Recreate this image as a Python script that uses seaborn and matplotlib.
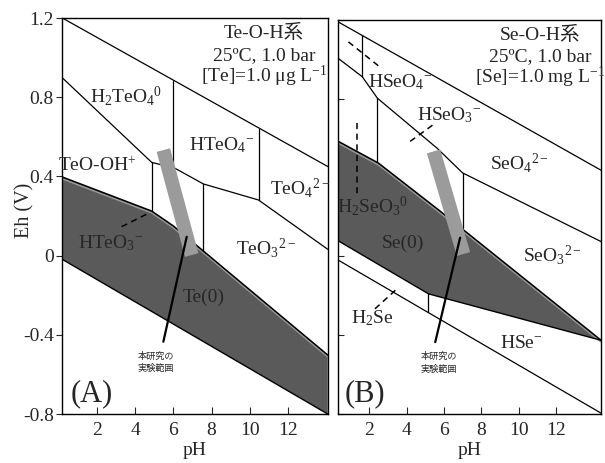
import numpy as np
import pandas as pd
import matplotlib
matplotlib.use("Agg")
import matplotlib.pyplot as plt
import matplotlib.patheffects as pe
import seaborn as sns

# ---------------- Te-O-H system (panel A) ----------------
a_o2_ph = [0.2, 14.07]
a_o2_eh = [1.2, 0.45]
a_upper_ph = [0.2, 4.87, 6.09, 7.57, 10.45, 14.07]
a_upper_eh = [0.898, 0.471, 0.441, 0.362, 0.281, 0.032]
a_vert_ph = [4.87, 6.0, 7.57, 10.46]
a_vert_top = [0.471, 0.884, 0.362, 0.639]
a_vert_bot = [0.225, 0.443, 0.024, 0.281]
a_te_top_ph = [0.2, 4.87, 6.0, 7.3, 14.07]
a_te_top_eh = [0.397, 0.225, 0.15, 0.045, -0.502]
a_te_bot_ph = [0.2, 14.07]
a_te_bot_eh = [-0.019, -0.8]
a_dash_ph = [3.30, 4.70]
a_dash_eh = [0.146, 0.214]
a_range_ph = [5.48, 6.96]
a_range_eh = [0.533, 0.003]
a_pointer_ph = [5.48, 6.70]
a_pointer_eh = [-0.435, 0.095]
a_species = [r"H$_2$TeO$_4$$^0$", r"HTeO$_4$$^{-}$", r"TeO-OH$^{+}$", r"TeO$_4$$^{2-}$",
             r"HTeO$_3$$^{-}$", r"TeO$_3$$^{2-}$", "Te(0)"]
a_species_ph = [3.54, 8.55, 2.02, 12.62, 2.75, 10.85, 7.61]
a_species_eh = [0.806, 0.559, 0.453, 0.341, 0.064, 0.038, -0.209]
a_title = ["Te-O-H系", "25ºC, 1.0 bar", r"[Te]=1.0 μg L$^{-1}$"]

# ---------------- Se-O-H system (panel B) ----------------
b_o2_ph = [0.35, 14.4]
b_o2_eh = [1.19, 0.437]
b_upper_ph = [0.35, 1.63, 2.44, 5.62, 6.99, 14.4]
b_upper_eh = [1.005, 0.912, 0.803, 0.55, 0.424, 0.075]
b_vert_ph = [1.63, 2.44, 6.99, 5.14]
b_vert_top = [1.122, 0.803, 0.424, -0.188]
b_vert_bot = [0.912, 0.477, 0.145, -0.284]
b_se_top_ph = [0.35, 2.49, 5.79, 14.4]
b_se_top_eh = [0.584, 0.474, 0.230, -0.426]
b_se_bot_ph = [0.35, 5.17, 14.4]
b_se_bot_eh = [0.079, -0.19, -0.426]
b_h2_ph = [0.35, 14.4]
b_h2_eh = [-0.019, -0.796]
b_dash_ph = [[0.89, 2.67], [1.37, 1.37], [4.19, 5.53], [2.31, 3.48]]
b_dash_eh = [[1.089, 0.954], [0.676, 0.315], [0.584, 0.676], [-0.266, -0.165]]
b_range_ph = [5.44, 7.04]
b_range_eh = [0.533, 0.012]
b_pointer_ph = [5.53, 6.86]
b_pointer_eh = [-0.435, 0.095]
b_species = [r"HSeO$_4$$^{-}$", r"HSeO$_3$$^{-}$", r"H$_2$SeO$_3$$^0$", r"SeO$_4$$^{2-}$",
             "Se(0)", r"SeO$_3$$^{2-}$", r"H$_2$Se", r"HSe$^{-}$"]
b_species_ph = [3.66, 6.28, 2.15, 10.02, 3.81, 11.79, 2.15, 10.13]
b_species_eh = [0.882, 0.715, 0.256, 0.473, 0.064, 0.008, -0.315, -0.441]
b_title = ["Se-O-H系", "25ºC, 1.0 bar", r"[Se]=1.0 mg L$^{-1}$"]

eh_ticks = [1.2, 0.8, 0.4, 0.0, -0.4, -0.8]
eh_ticklabels = ["1.2", "0.8", "0.4", "0", "-0.4", "-0.8"]
ph_ticks = [2, 4, 6, 8, 10, 12]
range_label = "本研究の\n実験範囲"

sns.set_theme(style="ticks")
plt.rcParams["font.family"] = ["Liberation Serif", "Noto Sans CJK JP"]
plt.rcParams["mathtext.fontset"] = "custom"
plt.rcParams["mathtext.rm"] = "Liberation Serif"
plt.rcParams["mathtext.it"] = "Liberation Serif:italic"
plt.rcParams["mathtext.bf"] = "Liberation Serif:bold"
plt.rcParams["axes.linewidth"] = 1.0

DARK = "#5a5a5a"
BAR = "#9b9b9b"
LW = 0.9
FS = 14

fig = plt.figure(figsize=(6.05, 4.63), dpi=100)
ax_a = fig.add_axes([0.1030, 0.1058, 0.4387, 0.8553])
ax_b = fig.add_axes([0.5592, 0.1058, 0.4345, 0.8510])


def line(ax, ph, eh, **kw):
    df = pd.DataFrame({"pH": ph, "Eh": eh})
    kw.setdefault("color", "black")
    kw.setdefault("lw", LW)
    sns.lineplot(data=df, x="pH", y="Eh", ax=ax, sort=False, estimator=None, **kw)


def stability_field(ax, top_ph, top_eh, bot_ph, bot_eh):
    poly_x = list(top_ph) + list(bot_ph)[::-1]
    poly_y = list(top_eh) + list(bot_eh)[::-1]
    ax.fill(poly_x, poly_y, color=DARK, lw=0, zorder=1)
    shadow = [pe.SimpleLineShadow(offset=(0, -1.3), shadow_color="#9a9a9a", alpha=1.0), pe.Normal()]
    line(ax, top_ph, top_eh, zorder=2, lw=1.1, path_effects=shadow)
    line(ax, bot_ph, bot_eh, zorder=2, lw=1.0)


def decorate(ax, xlim, ylim, species, sp_ph, sp_eh, title, title_ph, panel, panel_ph,
             range_ph, range_eh, pointer_ph, pointer_eh, label_ph):
    for txt, x, y in zip(species, sp_ph, sp_eh):
        ax.text(x, y, txt, ha="center", va="center", fontsize=FS, zorder=5)
    for txt, y in zip(title, [1.124, 1.012, 0.907]):
        ax.text(title_ph, y, txt, ha="center", va="center", fontsize=FS, zorder=5)
    ax.text(panel_ph, -0.697, panel, ha="center", va="center", fontsize=22, zorder=5)
    line(ax, range_ph, range_eh, color=BAR, lw=10, zorder=3, solid_capstyle="butt")
    line(ax, pointer_ph, pointer_eh, lw=1.6, zorder=4)
    ax.text(label_ph, -0.54, range_label, ha="center", va="center", fontsize=6.6,
            family=["Noto Sans CJK JP"], linespacing=1.45, zorder=5)
    ax.set_xlim(*xlim)
    ax.set_ylim(*ylim)
    ax.set_xticks(ph_ticks)
    ax.set_xticklabels([str(t) for t in ph_ticks], fontsize=FS)
    ax.tick_params(axis="x", direction="in", length=5, width=0.8, pad=6)
    ax.set_xlabel("pH", fontsize=FS, labelpad=2)
    ax.set_yticks(eh_ticks)
    for s in ax.spines.values():
        s.set_visible(True)
        s.set_color("black")


# Panel A
stability_field(ax_a, a_te_top_ph, a_te_top_eh, a_te_bot_ph, a_te_bot_eh)
line(ax_a, a_o2_ph, a_o2_eh)
line(ax_a, a_upper_ph, a_upper_eh)
for x, t, b in zip(a_vert_ph, a_vert_top, a_vert_bot):
    line(ax_a, [x, x], [t, b])
line(ax_a, a_dash_ph, a_dash_eh, lw=1.1, linestyle=(0, (4, 3)))
decorate(ax_a, (0.2, 14.07), (-0.8, 1.2), a_species, a_species_ph, a_species_eh,
         a_title, 10.74, "(A)", 1.76, a_range_ph, a_range_eh, a_pointer_ph, a_pointer_eh, 5.10)
ax_a.set_yticklabels(eh_ticklabels, fontsize=FS)
ax_a.tick_params(axis="y", direction="out", length=4, width=0.8, pad=2)
ax_a.set_ylabel("Eh (V)", fontsize=FS + 0.5)
ax_a.yaxis.set_label_coords(-0.106, 0.515)

# Panel B
stability_field(ax_b, b_se_top_ph, b_se_top_eh, b_se_bot_ph, b_se_bot_eh)
line(ax_b, b_o2_ph, b_o2_eh)
line(ax_b, b_upper_ph, b_upper_eh)
line(ax_b, b_h2_ph, b_h2_eh)
for x, t, b in zip(b_vert_ph, b_vert_top, b_vert_bot):
    line(ax_b, [x, x], [t, b])
for xs, ys in zip(b_dash_ph, b_dash_eh):
    line(ax_b, xs, ys, lw=1.1, linestyle=(0, (4, 3)))
decorate(ax_b, (0.35, 14.4), (-0.8, 1.19), b_species, b_species_ph, b_species_eh,
         b_title, 11.15, "(B)", 1.78, b_range_ph, b_range_eh, b_pointer_ph, b_pointer_eh, 5.74)
ax_b.set_yticklabels([])
ax_b.tick_params(axis="y", direction="in", length=4, width=0.8)
ax_b.set_ylabel("")

fig.savefig("out.png", dpi=100, facecolor="white")
